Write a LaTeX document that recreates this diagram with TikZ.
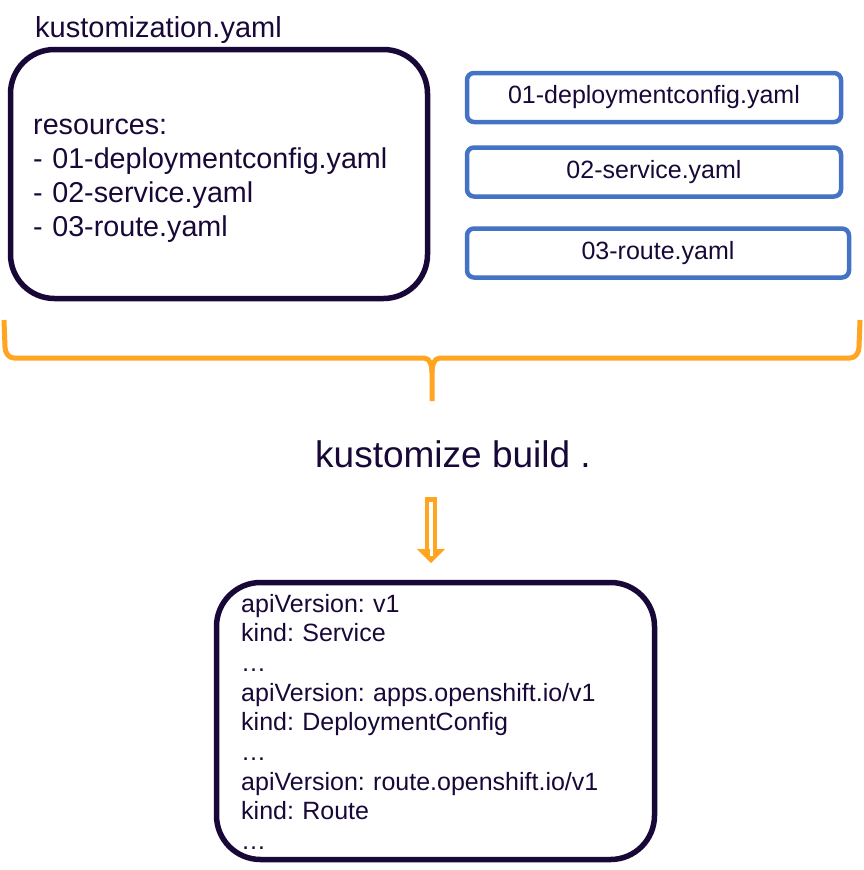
\documentclass[tikz,border=0pt]{standalone}
\usepackage{fontspec}
\setmainfont{Liberation Sans}
\usepackage{xcolor}
\usepackage{tikz}
\definecolor{inkdark}{RGB}{24, 8, 56}
\definecolor{fileblue}{RGB}{68, 114, 196}
\definecolor{buildorange}{RGB}{255, 165, 32}

\tikzset{
  yamlbox/.style={draw=inkdark, line width=5.5pt, rounded corners=44pt},
  filebox/.style={draw=fileblue, line width=4.5pt, rounded corners=7pt,
    minimum height=49pt, inner sep=0pt, text=inkdark,
    font=\fontsize{25}{30}\selectfont},
  bracket/.style={buildorange, line width=5pt, line join=round}
}

\begin{document}
\begin{tikzpicture}[x=1pt, y=-1pt]

  % ── Layout (pixels, y downwards) ─────────────────────────────────────
  \def\yBr{358}    % brace horizontal
  \def\xMid{432}   % brace tip
  \def\xAr{431}    % arrow axis

  \useasboundingbox (0,0) rectangle (864,870);

  % ── kustomization.yaml ───────────────────────────────────────────────
  \node[anchor=base west, inner sep=0pt, text=inkdark,
    font=\fontsize{29}{34}\selectfont] (ktitle) at (35,37)
    {kustomization.yaml};
  \node[yamlbox, minimum width=417pt, minimum height=249pt] (kfile)
    at (219,174) {};
  \node[anchor=base west, inner sep=0pt, text width=380pt, align=left,
    text=inkdark, font=\fontsize{28.7}{34}\selectfont\frenchspacing] (kres) at (33,134)
    {resources:\\- 01-deploymentconfig.yaml\\- 02-service.yaml\\- 03-route.yaml};

  % ── Resource files ───────────────────────────────────────────────────
  \node[filebox, minimum width=374pt] (fdc)    at (654,97.5) {01-deploymentconfig.yaml};
  \node[filebox, minimum width=374pt] (fsvc)   at (654,172)  {02-service.yaml};
  \node[filebox, minimum width=382pt] (froute) at (658,253)  {03-route.yaml};

  % ── Brace ────────────────────────────────────────────────────────────
  \draw[bracket] (4,320) -- (5,347) to[out=-90, in=180] (14,\yBr)
    -- (424,\yBr) to[out=0, in=90] (\xMid,373) -- (\xMid,401);
  \draw[bracket] (860,320) -- (859,347) to[out=-90, in=0] (850,\yBr)
    -- (440,\yBr) to[out=180, in=90] (\xMid,373);

  % ── Build command ────────────────────────────────────────────────────
  \node[anchor=base, inner sep=0pt, text=inkdark,
    font=\fontsize{37}{44}\selectfont] (build) at (453,467)
    {kustomize build .};

  % ── Arrow ────────────────────────────────────────────────────────────
  \coordinate (arrowtop) at (\xAr,499);
  \coordinate (arrowtip) at (\xAr,563);
  \draw[buildorange, line width=4.5pt] (\xAr-3.8,550) -- (\xAr-3.8,499.25)
    -- (\xAr+3.8,499.25) -- (\xAr+3.8,550);
  \fill[buildorange] (\xAr-14,549) -- (\xAr+14,549) -- (arrowtip) -- cycle;
  \fill[white] (\xAr-1.5,547) rectangle (\xAr+1.5,556);

  % ── Build output ─────────────────────────────────────────────────────
  \node[yamlbox, minimum width=438pt, minimum height=277pt] (kout)
    at (435.5,721) {};
  \node[anchor=base west, inner sep=0pt, text width=400pt, align=left,
    text=inkdark, font=\fontsize{25}{29.7}\selectfont\frenchspacing] (kmanifest) at (241,612)
    {apiVersion: v1\\kind: Service\\…\\
     apiVersion: apps.openshift.io/v1\\kind: DeploymentConfig\\…\\
     apiVersion: route.openshift.io/v1\\kind: Route\\…};

\end{tikzpicture}
\end{document}
